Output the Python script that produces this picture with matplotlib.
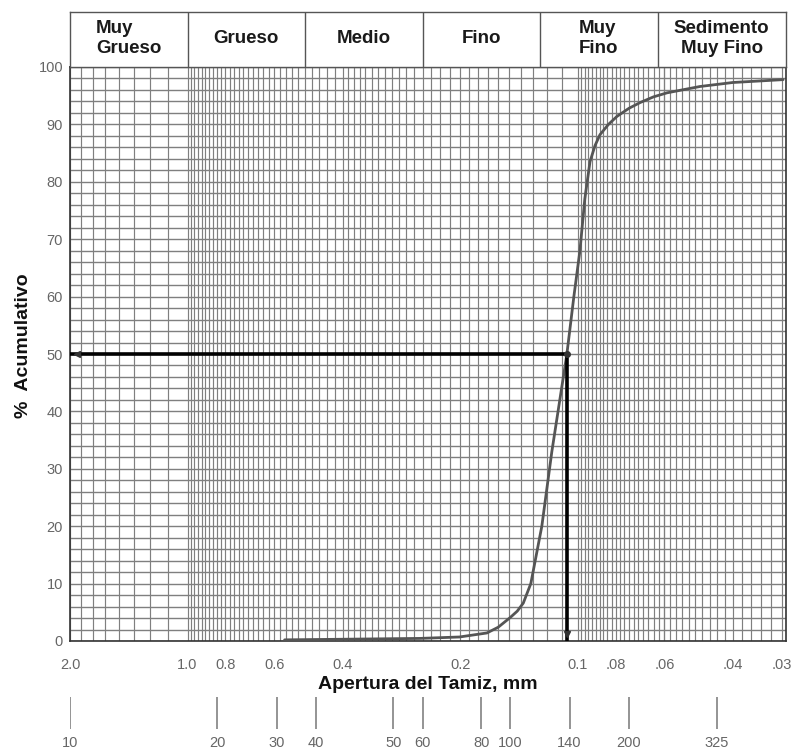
import numpy as np
import matplotlib
matplotlib.use("Agg")
import matplotlib.pyplot as plt
from matplotlib.ticker import FixedLocator, FixedFormatter, NullLocator

plt.rcParams['font.family'] = ['Liberation Sans', 'DejaVu Sans']

# ---------------- data ----------------
size_mm = [0.564, 0.408, 0.254, 0.201, 0.171, 0.160, 0.149, 0.143, 0.138, 0.132,
           0.1237, 0.1166, 0.1067, 0.1024, 0.0988, 0.0960, 0.0931, 0.0904, 0.0878,
           0.0835, 0.0794, 0.0740, 0.0693, 0.0640, 0.0591, 0.0487, 0.0401, 0.0298]
cum_pct = [0.2, 0.3, 0.45, 0.7, 1.4, 2.4, 4.1, 5.2, 6.6, 10,
           20, 33, 50, 60, 68, 77, 83.5, 86.3, 88.2,
           90.0, 91.4, 92.8, 93.8, 94.8, 95.5, 96.6, 97.3, 97.8]

d50_mm = 0.1067
d50_pct = 50

mm_ticks = [2.0, 1.0, 0.8, 0.6, 0.4, 0.2, 0.1, 0.08, 0.06, 0.04, 0.03]
mm_labels = ['2.0', '1.0', '0.8', '0.6', '0.4', '0.2', '0.1', '.08', '.06', '.04', '.03']

mesh_labels = ['10', '20', '30', '40', '50', '60', '80', '100', '140', '200', '325']
mesh_mm = [2.0, 0.84, 0.59, 0.47, 0.297, 0.25, 0.177, 0.149, 0.105, 0.074, 0.044]

class_names = ['Muy\nGrueso', 'Grueso', 'Medio', 'Fino', 'Muy\nFino', 'Sedimento\nMuy Fino']
class_edges = [2.0, 1.0, 0.5, 0.25, 0.125, 0.0625, 0.0293]
class_align = ['left', 'center', 'center', 'center', 'left', 'center']

y_ticks = list(range(0, 101, 10))

# ---------------- layout ----------------
W, H = 792, 751
fig = plt.figure(figsize=(W / 100, H / 100), dpi=100)

def fx(px):
    return px / W

def fy(py):
    return 1 - py / H

L, R = 70, 786
T, B = 67, 641
xlim = (2.0, 0.0293)

ax = fig.add_axes([fx(L), fy(B), fx(R - L), fy(T) - fy(B)])
ax.set_xscale('log')
ax.set_xlim(*xlim)
ax.set_ylim(0, 100)

# graph-paper grid
grid_col = '#7f7f7f'
vgrid = np.concatenate([
    np.arange(2.0, 1.0, -0.125),
    np.arange(1.0, 0.4, -0.02),
    np.arange(0.4, 0.2, -0.0125),
    np.arange(0.2, 0.1, -0.01),
    np.arange(0.1, 0.06, -0.002),
    np.arange(0.06, 0.029, -0.002),
])
ax.vlines(vgrid, 0, 100, colors=grid_col, lw=0.85, zorder=1)
ax.hlines(np.arange(0, 101, 2), xlim[0], xlim[1], colors=grid_col, lw=1.0, zorder=1)

# curve
ax.plot(size_mm, cum_pct, color='#555555', lw=2.0, zorder=3,
        solid_capstyle='round', solid_joinstyle='round')

# D50 construction lines
ax.plot([xlim[0], d50_mm], [d50_pct, d50_pct], color='black', lw=2.6, zorder=4)
ax.plot([d50_mm, d50_mm], [d50_pct, 0], color='black', lw=2.6, zorder=4)
ax.plot([d50_mm], [d50_pct], 'o', color='#333333', ms=4, zorder=5)
ax.plot([1.92], [d50_pct], marker='<', color='#333333', ms=4, zorder=5)
ax.plot([d50_mm], [1.2], marker='v', color='#333333', ms=4, zorder=5)

# ticks
ax.xaxis.set_major_locator(FixedLocator(mm_ticks))
ax.xaxis.set_major_formatter(FixedFormatter(mm_labels))
ax.xaxis.set_minor_locator(NullLocator())
ax.set_yticks(y_ticks)
ax.tick_params(axis='both', length=0, labelsize=10.5, labelcolor='#666666')
ax.tick_params(axis='x', pad=12)
ax.tick_params(axis='y', pad=5)
for s in ax.spines.values():
    s.set_color('#333333')
    s.set_linewidth(1.2)

ax.set_xlabel('Apertura del Tamiz, mm', fontsize=14, fontweight='bold',
              color='#111111', labelpad=3)
ax.set_ylabel('%  Acumulativo', fontsize=14, fontweight='bold',
              color='#111111', labelpad=4)
ax.yaxis.set_label_coords(-0.053, 0.515)

# header with size classes
hax = fig.add_axes([fx(L), fy(T), fx(R - L), fy(12) - fy(T)])
hax.set_xscale('log')
hax.set_xlim(*xlim)
hax.set_ylim(0, 1)
hax.set_xticks([])
hax.set_yticks([])
hax.xaxis.set_minor_locator(NullLocator())
for s in hax.spines.values():
    s.set_color('#555555')
    s.set_linewidth(1.0)
hax.vlines(class_edges[1:-1], 0, 1, colors='#555555', lw=1.0)
for i, name in enumerate(class_names):
    xc = np.sqrt(class_edges[i] * class_edges[i + 1])
    hax.text(xc, 0.52, name, ha='center', va='center', fontsize=13.5,
             fontweight='bold', color='#1a1a1a', multialignment=class_align[i],
             linespacing=1.2)

# mesh (sieve number) scale
max_ = fig.add_axes([fx(L), fy(729), fx(R - L), fy(697) - fy(729)])
max_.set_xscale('log')
max_.set_xlim(*xlim)
max_.set_ylim(0, 1)
max_.vlines(mesh_mm, 0, 1, colors='#777777', lw=1.1)
max_.xaxis.set_major_locator(FixedLocator(mesh_mm))
max_.xaxis.set_major_formatter(FixedFormatter(mesh_labels))
max_.xaxis.set_minor_locator(NullLocator())
max_.set_yticks([])
max_.tick_params(axis='x', length=0, labelsize=10.5, labelcolor='#666666', pad=5)
for s in max_.spines.values():
    s.set_visible(False)
max_.patch.set_alpha(0)

fig.savefig('out.png', dpi=100)
